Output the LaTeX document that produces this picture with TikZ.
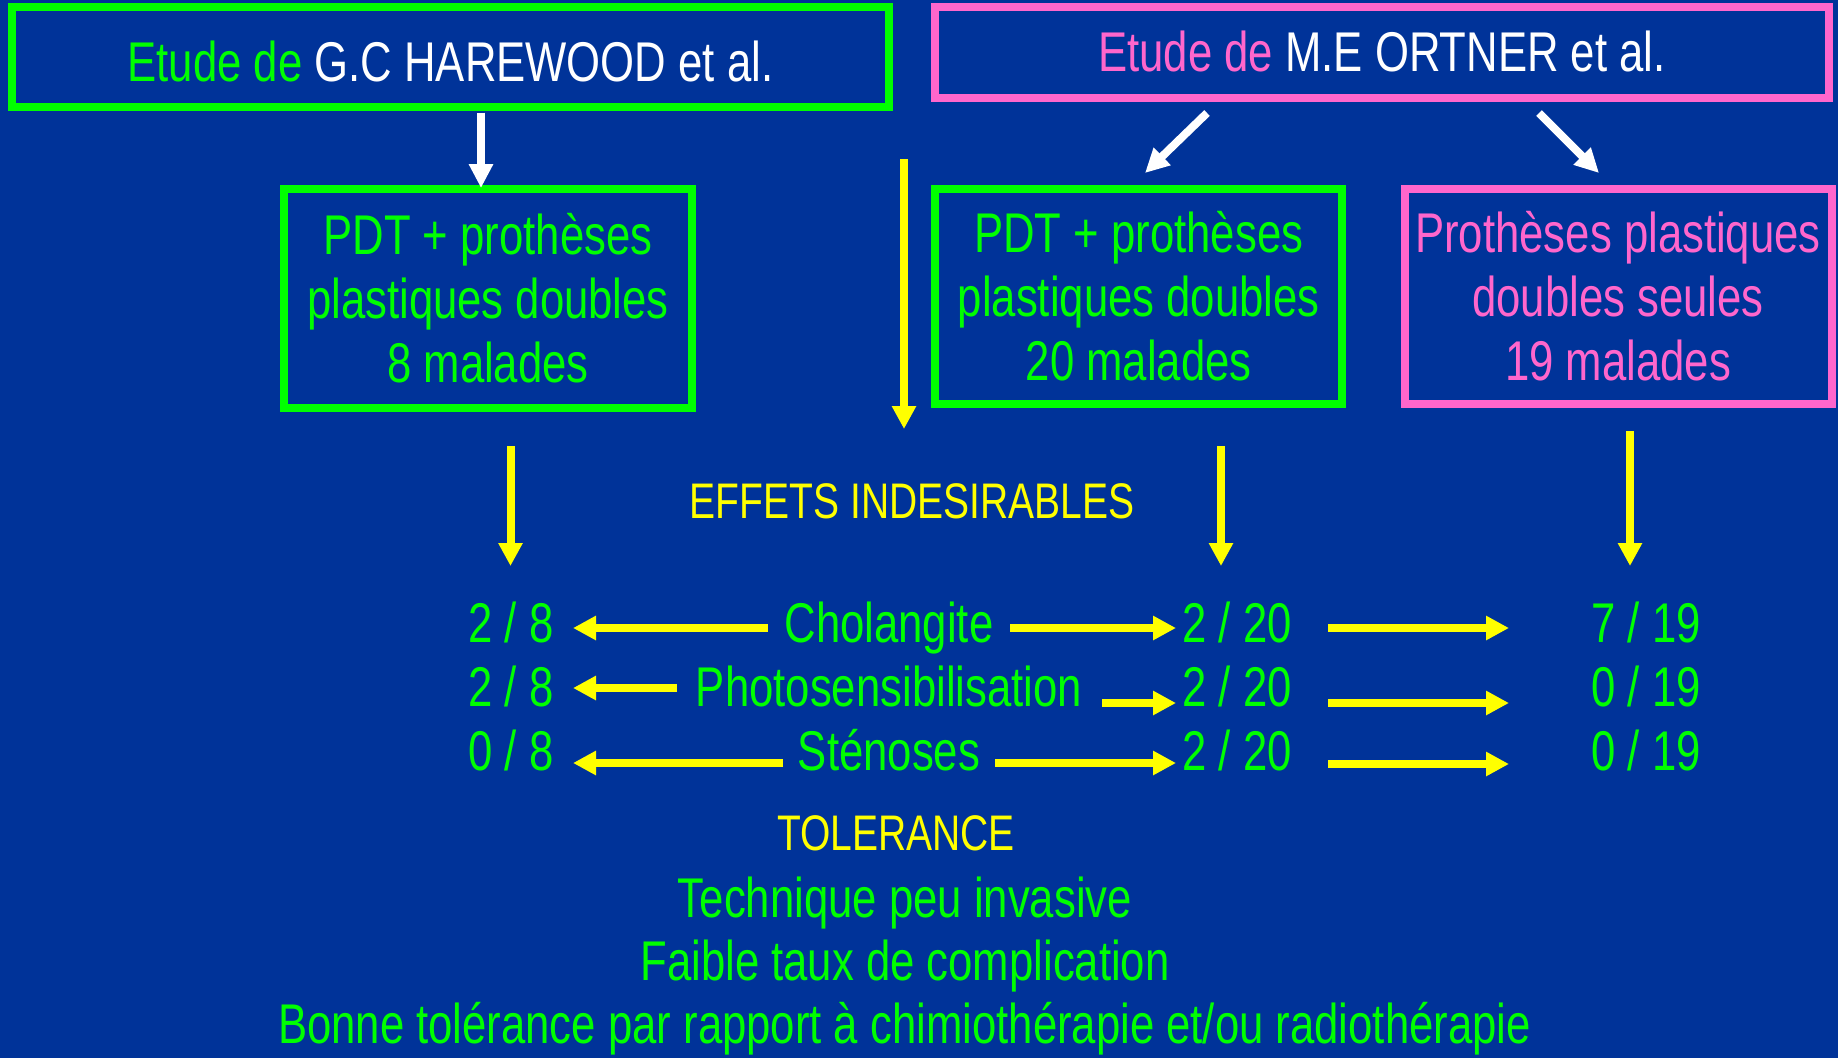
\documentclass[tikz,border=0pt]{standalone}
\usepackage{fontspec}
\setmainfont{Liberation Sans}[FakeStretch=0.78]
\usetikzlibrary{arrows.meta}
\definecolor{bg}{HTML}{003399}
\definecolor{grn}{HTML}{00FF00}
\definecolor{pnk}{HTML}{FF66CC}
\definecolor{ylw}{HTML}{FFFF00}
\newcommand\lstrut{\rule[-12pt]{0pt}{64pt}}
\begin{document}
\begin{tikzpicture}[x=1pt,y=-1pt,
  box/.style={draw, line width=8pt, inner sep=0pt, align=center},
  bigtxt/.style={font=\fontsize{56pt}{64pt}\selectfont},
  midtxt/.style={font=\fontsize{50pt}{60pt}\selectfont},
  yarrow/.style={draw=ylw, line width=8pt, -{Triangle[width=23pt,length=23pt]}},
  warrow/.style={draw=white, line width=8pt, -{Triangle[width=23pt,length=24pt]}},
  lbl/.style={bigtxt, anchor=base, inner sep=0pt, text=grn},
  ylbl/.style={midtxt, anchor=base, inner sep=0pt, text=ylw}]
\fill[bg] (0,0) rectangle (1838,1058);
\useasboundingbox (0,0) rectangle (1838,1058);

% top boxes
\node[box, draw=grn, minimum width=877pt, minimum height=100pt, text height=54pt, text depth=5pt, bigtxt] (s1) at (450.5,57)
  {\textcolor{grn}{Etude de} \textcolor{white}{G.C HAREWOOD et al.}};
\node[box, draw=pnk, minimum width=894pt, minimum height=91pt, text height=50pt, text depth=11pt, bigtxt] (s2) at (1382,52.3)
  {\textcolor{pnk}{Etude de} \textcolor{white}{M.E ORTNER et al.}};

% group boxes
\node[box, draw=grn, text=grn, minimum width=408pt, minimum height=219pt, bigtxt] (g1) at (488,298.5)
  {\lstrut PDT + prothèses\\\lstrut plastiques doubles\\\lstrut 8 malades};
\node[box, draw=grn, text=grn, minimum width=407pt, minimum height=215pt, bigtxt] (g2) at (1138.7,296.5)
  {\lstrut PDT + prothèses\\\lstrut plastiques doubles\\\lstrut 20 malades};
\node[box, draw=pnk, text=pnk, minimum width=427pt, minimum height=215pt, bigtxt] (g3) at (1618,296.5)
  {\lstrut Prothèses plastiques\\\lstrut doubles seules\\\lstrut 19 malades};

% headings
\node[ylbl] (eff) at (912,518) {EFFETS INDESIRABLES};
\node[ylbl] (tol) at (896,850) {TOLERANCE};
\node[lbl] (t1) at (905,917) {Technique peu invasive};
\node[lbl] (t2) at (905,980) {Faible taux de complication};
\node[lbl] (t3) at (904.5,1043) {Bonne tolérance par rapport à chimiothérapie et/ou radiothérapie};

% rows
\node[lbl] (r1a) at (511,642) {2 / 8};
\node[lbl] (r1b) at (889,642) {Cholangite};
\node[lbl] (r1c) at (1237,642) {2 / 20};
\node[lbl] (r1d) at (1646,642) {7 / 19};
\node[lbl] (r2a) at (511,706) {2 / 8};
\node[lbl] (r2b) at (889,706) {Photosensibilisation};
\node[lbl] (r2c) at (1237,706) {2 / 20};
\node[lbl] (r2d) at (1646,706) {0 / 19};
\node[lbl] (r3a) at (511,770) {0 / 8};
\node[lbl] (r3b) at (889,770) {Sténoses};
\node[lbl] (r3c) at (1237,770) {2 / 20};
\node[lbl] (r3d) at (1646,770) {0 / 19};

% arrow end points
\coordinate (w1s) at (481,112.5);  \coordinate (w1e) at (481,188);
\coordinate (w2s) at (1207,113);   \coordinate (w2e) at (1145,173);
\coordinate (w3s) at (1539,113);   \coordinate (w3e) at (1599,173);
\coordinate (ylS) at (904,159);    \coordinate (ylE) at (904,429);
\coordinate (yd1s) at (510.5,446); \coordinate (yd1e) at (510.5,566);
\coordinate (yd2s) at (1221,446);  \coordinate (yd2e) at (1221,566);
\coordinate (yd3s) at (1630,431);  \coordinate (yd3e) at (1630,566);

\coordinate (h1as) at (767.5,628); \coordinate (h1ae) at (573,628);
\coordinate (h1bs) at (1010,628);  \coordinate (h1be) at (1176,628);
\coordinate (h1cs) at (1328,628);  \coordinate (h1ce) at (1509,628);
\coordinate (h2as) at (677,688);   \coordinate (h2ae) at (573,688);
\coordinate (h2bs) at (1102,703);  \coordinate (h2be) at (1176,703);
\coordinate (h2cs) at (1328,703);  \coordinate (h2ce) at (1509,703);
\coordinate (h3as) at (783,763);   \coordinate (h3ae) at (573,763);
\coordinate (h3bs) at (995,763);   \coordinate (h3be) at (1176,763);
\coordinate (h3cs) at (1328,764);  \coordinate (h3ce) at (1509,764);

% white arrows
\draw[warrow] (w1s) -- (w1e);
\draw[warrow] (w2s) -- (w2e);
\draw[warrow] (w3s) -- (w3e);

% yellow vertical arrows
\draw[yarrow] (ylS) -- (ylE);
\draw[yarrow] (yd1s) -- (yd1e);
\draw[yarrow] (yd2s) -- (yd2e);
\draw[yarrow] (yd3s) -- (yd3e);

% yellow horizontal arrows
\draw[yarrow] (h1as) -- (h1ae);
\draw[yarrow] (h1bs) -- (h1be);
\draw[yarrow] (h1cs) -- (h1ce);
\draw[yarrow] (h2as) -- (h2ae);
\draw[yarrow] (h2bs) -- (h2be);
\draw[yarrow] (h2cs) -- (h2ce);
\draw[yarrow] (h3as) -- (h3ae);
\draw[yarrow] (h3bs) -- (h3be);
\draw[yarrow] (h3cs) -- (h3ce);
\end{tikzpicture}
\end{document}
